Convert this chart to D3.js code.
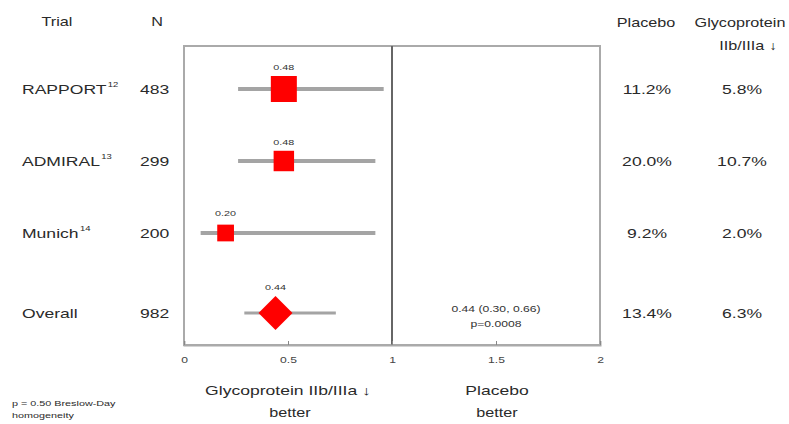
<!DOCTYPE html>
<html><head><meta charset="utf-8">
<script src="https://cdn.jsdelivr.net/npm/d3@7"></script>
<style>body{margin:0;background:#fff}svg{display:block;font-family:Arial,"Liberation Sans",sans-serif}</style>
</head><body><svg id="c" width="789" height="424"></svg>
<script>
const trials = ["RAPPORT", "ADMIRAL", "Munich", "Overall"];
const refs = ["12", "13", "14", ""];
const nPatients = [483, 299, 200, 982];
const oddsRatio = [0.48, 0.48, 0.20, 0.44];
const ciLow = [0.26, 0.26, 0.08, 0.29];
const ciHigh = [0.96, 0.92, 0.92, 0.73];
const placeboRate = ["11.2%", "20.0%", "9.2%", "13.4%"];
const gpRate = ["5.8%", "10.7%", "2.0%", "6.3%"];
const xTicks = [0, 0.5, 1, 1.5, 2];
const overallText = ["0.44 (0.30, 0.66)", "p=0.0008"];

(function () {
const SX = 1.35;
const svg = d3.select("#c");
const x = d3.scaleLinear().domain([0, 2]).range([184, 600]);
// row slots: the summary row sits a little further below the trials
const rowIndex = t => (t === "Overall" ? trials.length - 1 + 0.11 : trials.indexOf(t));
const yLin = d3.scaleLinear().domain([0, 1]).range([89, 161]);
const y = t => yLin(rowIndex(t));
const size = d3.scaleSqrt().domain([0, 483]).range([0, 26]);
const plotTop = 46, plotBottom = 345;

function txt(tx, ty, s, fs, anchor, fill) {
  return svg.append("text").attr("transform", `translate(${tx},${ty}) scale(${SX},1)`)
    .attr("text-anchor", anchor || "middle").attr("font-size", fs).attr("fill", fill || "#2a2a2a").text(s);
}

// frame
svg.append("rect").attr("x", x(0)).attr("y", plotTop).attr("width", x(2) - x(0)).attr("height", plotBottom - plotTop)
  .attr("fill", "none").attr("stroke", "#aaa").attr("stroke-width", 2);
svg.append("line").attr("x1", x(1)).attr("x2", x(1)).attr("y1", plotTop).attr("y2", plotBottom)
  .attr("stroke", "#666").attr("stroke-width", 2);

// axis
const ax = svg.append("g").attr("transform", `translate(0,${plotBottom})`)
  .call(d3.axisBottom(x).tickValues(xTicks).tickFormat(d3.format("")).tickSize(-4).tickPadding(12));
ax.select(".domain").attr("stroke", "#aaa").attr("stroke-width", 2);
ax.selectAll(".tick line").attr("stroke", "#888");
ax.selectAll(".tick text").attr("font-size", 9).attr("fill", "#444").attr("transform", `scale(${SX},1)`);

// CI lines
trials.forEach((t, i) => {
  svg.append("line").attr("x1", x(ciLow[i])).attr("x2", x(ciHigh[i]))
    .attr("y1", y(t)).attr("y2", y(t))
    .attr("stroke", "#a4a4a4").attr("stroke-width", i === 3 ? 3 : 4);
});

// markers
trials.forEach((t, i) => {
  const cx = x(oddsRatio[i]), cy = y(t);
  let h;
  if (i < 3) {
    const s = size(nPatients[i]);
    h = s / 2;
    svg.append("rect").attr("x", cx - h).attr("y", cy - h).attr("width", s).attr("height", s)
      .attr("fill", "#ff0000");
  } else {
    h = 17;
    svg.append("path").attr("d", `M${cx - h},${cy}L${cx},${cy - h}L${cx + h},${cy}L${cx},${cy + h}Z`)
      .attr("fill", "#ff0000");
  }
  txt(cx, cy - h - (i === 2 ? 9 : 6), oddsRatio[i].toFixed(2), 8, "middle", "#333");
});

// overall stats text
overallText.forEach((s, k) => {
  txt(x(1.5), y("Overall") - 1 + k * 15, s, 9, "middle", "#333");
});

// headers
txt(57, 26, "Trial", 12);
txt(157, 26, "N", 12);
txt(646, 27, "Placebo", 12);
txt(740, 27, "Glycoprotein", 12);
txt(748, 50, "IIb/IIIa ↓", 12);

// rows
trials.forEach((t, i) => {
  const cy = y(t) + 5;
  const tx = svg.append("text").attr("transform", `translate(22,${cy}) scale(${SX},1)`)
    .attr("font-size", 13).attr("fill", "#2a2a2a");
  tx.append("tspan").text(t);
  if (refs[i]) tx.append("tspan").attr("dy", -7).attr("dx", 1).attr("font-size", 7).text(refs[i]);
  txt(140, cy, nPatients[i], 13, "start");
  txt(647, cy, placeboRate[i], 13);
  txt(742, cy, gpRate[i], 13);
});

// bottom labels
txt(288, 395, "Glycoprotein IIb/IIIa ↓", 13);
txt(290, 417, "better", 12);
txt(497, 395, "Placebo", 13);
txt(497, 417, "better", 12);

txt(12, 406, "p = 0.50 Breslow-Day", 8, "start");
txt(12, 418, "homogeneity", 8, "start");
})();
</script></body></html>
